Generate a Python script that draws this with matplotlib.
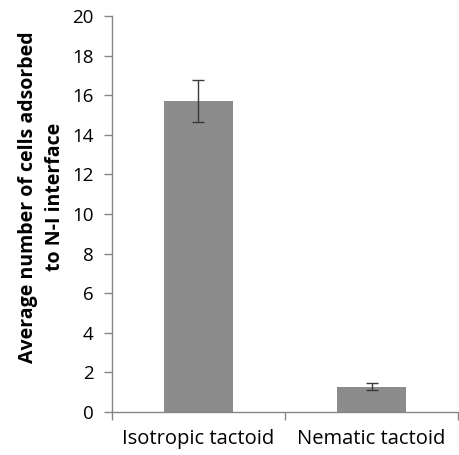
import matplotlib
matplotlib.use('Agg')
import matplotlib.pyplot as plt

categories = ['Isotropic tactoid', 'Nematic tactoid']
means = [15.7, 1.27]
errors = [1.07, 0.18]
y_ticks = [0, 2, 4, 6, 8, 10, 12, 14, 16, 18, 20]

plt.rcParams['font.family'] = ['Open Sans', 'DejaVu Sans']

fig = plt.figure(figsize=(4.6, 4.55), dpi=100)
ax = fig.add_axes([0.243, 0.0945, 0.753, 0.8705])

x = list(range(len(categories)))
ax.bar(x, means, width=0.4, color='#8c8c8c', zorder=2)
ax.errorbar(x, means, yerr=errors, fmt='none', ecolor='#3a3a3a',
            elinewidth=1.0, capsize=4, capthick=1.0, zorder=3)

ax.set_xlim(-0.5, len(categories) - 0.5)
ax.set_ylim(0, 20)
ax.set_yticks(y_ticks)
ax.set_xticks(x)
ax.set_xticklabels(categories, fontsize=14.5)
ax.tick_params(axis='x', length=0, pad=12)
ax.set_xticks([i - 0.5 for i in range(len(categories) + 1)], minor=True)
ax.tick_params(axis='x', which='minor', length=6, width=1, color='#868686', direction='out')
ax.tick_params(axis='y', labelsize=13.5, length=6, width=1, color='#868686', direction='out', pad=7)

for side in ['top', 'right']:
    ax.spines[side].set_visible(False)
for side in ['left', 'bottom']:
    ax.spines[side].set_color('#868686')
    ax.spines[side].set_linewidth(1)

ax.set_ylabel('Average number of cells adsorbed\nto N-I interface', fontsize=14,
              fontweight='bold', linespacing=1.45)
ax.yaxis.set_label_coords(-0.135, 0.543)

fig.savefig('out.png', dpi=100)
